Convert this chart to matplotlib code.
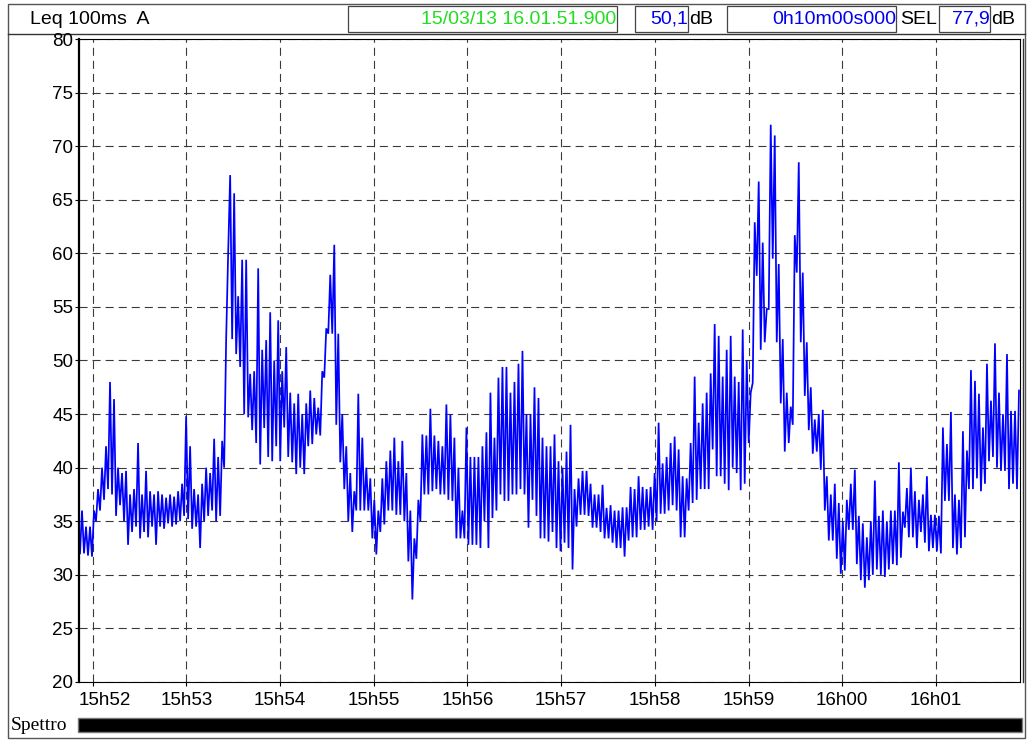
import matplotlib
matplotlib.use('Agg')
import matplotlib.pyplot as plt
from matplotlib.patches import Rectangle
import matplotlib.transforms as mtransforms
import numpy as np

# ---------------- data ----------------
# Leq 100ms A, min/max envelope per ~2.56 s bin, 15:51:51 -> 16:01:54
level_lo = [
    32, 32, 31.8, 31.7, 35, 36, 37, 38, 37.5, 35.5, 36.5, 35, 32.8, 34, 34.5, 33.4, 34, 33.5, 34.5, 32.8,
    34.5, 34.3, 34.8, 34.5, 34.7, 35, 35.5, 35.2, 34.3, 34.5, 32.5, 35, 35.5, 36, 35, 35.5, 40, 60, 52, 50.6,
    49.4, 45, 44.7, 43.5, 42.3, 40.3, 43.7, 41, 40.6, 42, 40.6, 43.75, 41, 40.5, 39.4, 40, 39.4, 42, 42.2, 43.1,
    43, 48.4, 52.5, 52.5, 44, 40.5, 38, 35, 34, 36, 36, 36, 36, 33.4, 31.9, 34, 34.7, 36, 36, 35.6,
    35.6, 35, 31.25, 27.7, 31.5, 35, 37.5, 37.5, 37.8, 38, 37.5, 37.5, 37, 36.9, 33.4, 33.4, 33.4, 32.8, 32.8, 32.8,
    32.5, 35, 32.5, 35.3, 36, 37.5, 36.9, 36.9, 37.5, 37.5, 38, 37.5, 34.4, 37, 35.5, 33.4, 33.4, 33.1, 34, 32.5,
    32.2, 33, 32.5, 30.5, 34.5, 35.6, 35.6, 35.5, 34.4, 34.4, 34, 33.4, 33.4, 33, 32.5, 32.5, 31.7, 33.2, 33.5, 33.5,
    34.2, 34.2, 34.5, 34.2, 35, 35.7, 35.7, 36, 36.5, 36, 33.5, 33.5, 36, 36.7, 37, 38, 38, 38, 41.7, 39.2,
    39.2, 38.5, 37.9, 40, 39.5, 37.9, 38.5, 42.3, 47.9, 57.9, 51, 51.7, 54.8, 59.5, 51.7, 46, 41.5, 42.3, 44, 58.2,
    51.7, 46.7, 43.5, 41.3, 41.5, 39.8, 36, 33.2, 33.2, 31.5, 30.1, 30.4, 34.2, 34.2, 31, 29.5, 28.8, 29.5, 30, 30.5,
    30, 29.8, 30.5, 31, 30.9, 31.6, 34.4, 33.5, 33.5, 32.5, 34, 33, 32.2, 32.5, 32.2, 32, 36.9, 36.9, 32.5, 31.9,
    32.5, 33.5, 38, 38, 39, 37.8, 38.5, 40.6, 41, 40, 39.7, 39.7, 38, 38.5, 38,
]
level_hi = [
    36, 34.5, 34.5, 36, 38, 40, 42, 48, 46.4, 40, 39.5, 39.7, 37.5, 38, 42.3, 37.5, 39.7, 37.8, 37.5, 37.8,
    37.5, 37.2, 37.5, 37.3, 37.8, 38.5, 44.8, 42, 38, 37.5, 38.5, 40, 39.5, 42.7, 41, 42.5, 52, 67.3, 65.6, 56,
    59.4, 59.4, 48.75, 49, 58.6, 51, 51.9, 54.5, 50, 53.75, 49, 51.25, 47, 46, 46.9, 45, 46, 47.2, 46.5, 45.6,
    49, 53, 58, 60.8, 52.5, 45, 42, 39.5, 37.8, 46.9, 42.8, 40, 39, 37, 36, 39, 40.6, 41.6, 42.8, 40.6,
    42.5, 39.5, 36, 33.4, 37, 43.1, 43, 45.5, 43, 42.5, 42, 45.9, 45, 42.8, 40, 36, 43.75, 41, 41, 41,
    42, 43.3, 47, 42.8, 48.4, 49.4, 49.4, 47, 48, 49.7, 50.9, 45, 45, 47.5, 46.5, 42.8, 42, 42, 43.1, 40.6,
    40, 41.5, 44, 38, 39, 39.7, 39.7, 38.5, 37.5, 37.5, 38.4, 36.25, 36.5, 36, 36, 36.3, 36.3, 38.2, 38, 39.2,
    38.2, 38, 38.2, 39.5, 44.2, 40.4, 41, 42.3, 42.9, 41.7, 39.2, 39, 42.3, 48.5, 44.2, 46, 47, 48.8, 53.4, 52.3,
    48.5, 51, 52.3, 48.5, 48, 52.9, 50, 47, 62.9, 66.7, 61, 54.8, 72, 71, 59, 52, 47, 45.7, 61.7, 68.5,
    58.2, 51.7, 47.5, 44.5, 45, 45.4, 39.2, 37.5, 38.5, 36.7, 35, 37, 38.5, 39.8, 35.5, 34.8, 33.5, 35, 38.8, 35.5,
    36, 35, 36, 36, 40.5, 35.9, 38.1, 40, 37.8, 37, 37.5, 39.2, 35.6, 35.6, 35.5, 43.75, 42.2, 45.2, 37.5, 37,
    43.4, 41.6, 49.1, 48.1, 46.9, 43.75, 49.7, 46.25, 51.6, 47, 45, 50.6, 45.3, 45.3, 47.2,
]
# time axis: seconds relative to 15h52
t_start_s = -8.77
t_end_s = 593.8
x_tick_minutes = [0, 1, 2, 3, 4, 5, 6, 7, 8, 9]
x_tick_labels = ['15h52', '15h53', '15h54', '15h55', '15h56', '15h57', '15h58', '15h59', '16h00', '16h01']
y_ticks = [20, 25, 30, 35, 40, 45, 50, 55, 60, 65, 70, 75, 80]

header_title = 'Leq 100ms  A'
header_time = '15/03/13 16.01.51.900'
header_leq = '50,1'
header_duration = '0h10m00s000'
header_sel = '77,9'

# ---------------- build series ----------------
vals = np.empty(2 * len(level_lo))
vals[0::2] = level_lo
vals[1::2] = level_hi
n = len(vals)
step = (t_end_s - t_start_s) / n
t = t_start_s + (np.arange(n) + 0.5) * step

plt.rcParams['lines.scale_dashes'] = False
W, H = 1028, 740
fig = plt.figure(figsize=(W / 100, H / 100), dpi=100)

# decoration layer in pixel coordinates
deco = fig.add_axes([0, 0, 1, 1])
deco.set_xlim(0, W)
deco.set_ylim(H, 0)
deco.axis('off')

sans = 'Liberation Sans'
hfs = 14
deco.add_patch(Rectangle((8, 4), 1017, 734, fill=False, ec='#555555', lw=1.0))
deco.plot([8, 1025], [34, 34], color='#333333', lw=1.0)
for (x0, x1) in [(348, 617), (635, 688), (727, 896), (939, 990)]:
    deco.add_patch(Rectangle((x0, 6), x1 - x0, 26, fill=True, fc='white', ec='#444444', lw=0.9))
deco.text(30, 19, header_title, fontsize=hfs, family=sans, va='center', ha='left', color='black')
deco.text(616, 19, header_time, fontsize=hfs, family=sans, va='center', ha='right', color='#22dd22')
deco.text(688, 19, header_leq, fontsize=hfs, family=sans, va='center', ha='right', color='#0000ee')
deco.text(689, 19, 'dB', fontsize=hfs, family=sans, va='center', ha='left', color='black')
deco.text(896, 19, header_duration, fontsize=hfs, family=sans, va='center', ha='right', color='#0000ee')
deco.text(900, 19, 'SEL', fontsize=hfs, family=sans, va='center', ha='left', color='black')
deco.text(990, 19, header_sel, fontsize=hfs, family=sans, va='center', ha='right', color='#0000ee')
deco.text(991, 19, 'dB', fontsize=hfs, family=sans, va='center', ha='left', color='black')

# Spettro bar
deco.text(11, 726, 'Spettro', fontsize=14, family='Liberation Serif', va='center', ha='left', color='black')
deco.add_patch(Rectangle((78, 718), 944, 14, fc='black', ec='#777777', lw=1.0))
deco.plot([1023, 1023], [39, 682], color='#333333', lw=1.0)

# main plot
left, right, top, bottom = 79, 1020, 39, 682
ax = fig.add_axes([left / W, 1 - bottom / H, (right - left) / W, (bottom - top) / H])
ax.plot(t, vals, color='#0000ff', lw=1.25, solid_joinstyle='miter')
ax.set_xlim(t_start_s, t_end_s)
ax.set_ylim(20, 80)
ax.set_yticks(y_ticks)
ax.set_yticklabels([str(v) for v in y_ticks], family=sans, fontsize=13.5)
ax.set_xticks([m * 60 for m in x_tick_minutes])
ax.set_xticklabels(x_tick_labels, family=sans, fontsize=13.5)
ax.tick_params(axis='both', direction='out', length=3, width=0.8, color='black', pad=1)
ax.tick_params(axis='x', pad=4)
ax.grid(True, linestyle=(0, (5.8, 3.6)), color='#3a3a3a', lw=0.8)
ax.set_axisbelow(True)
for s in ['top', 'right', 'bottom']:
    ax.spines[s].set_linewidth(0.8)
ax.spines['left'].set_linewidth(1.6)

# first time label is pushed right to stay inside the frame (as in the reference)
first = ax.get_xticklabels()[0]
first.set_transform(first.get_transform() + mtransforms.ScaledTranslation(12 / 100, 0, fig.dpi_scale_trans))

fig.savefig('out.png', dpi=100)
